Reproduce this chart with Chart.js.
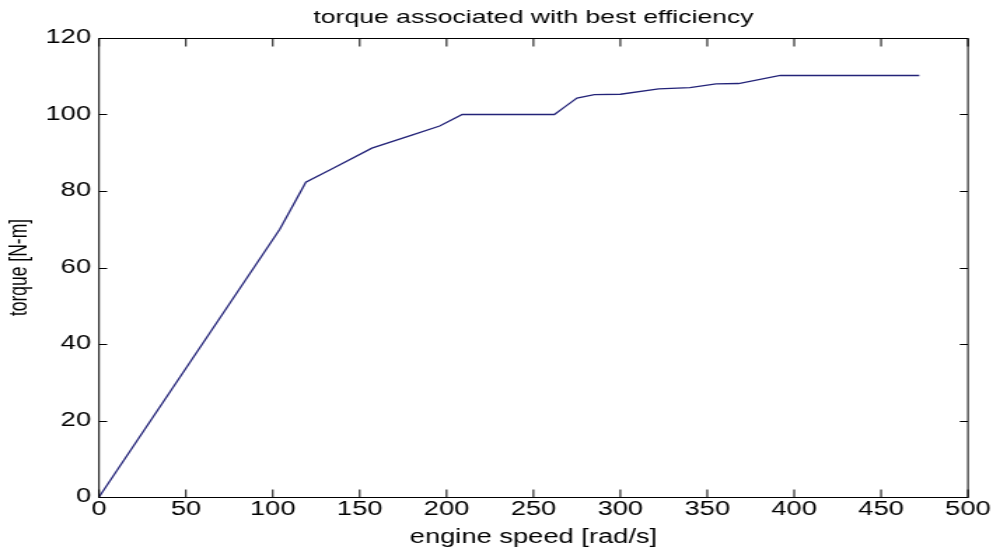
<!DOCTYPE html>
<html>
<head>
<meta charset="utf-8">
<script src="https://cdn.jsdelivr.net/npm/chart.js@4"></script>
<style>
html,body{margin:0;padding:0;background:#fff;overflow:hidden;}
#outer{width:993px;height:547px;overflow:hidden;}
#wrap{width:709px;height:547px;transform:scaleX(1.40056);transform-origin:0 0;}
</style>
</head>
<body>
<div id="outer"><div id="wrap"><canvas id="c" width="709" height="547"></canvas></div></div>
<script>
const chartTitle = "torque associated with best efficiency";
const xTitle = "engine speed [rad/s]";
const yTitle = "torque [N-m]";
const speed  = [0, 104, 119, 135, 157, 180, 196, 209, 262, 268, 275, 285, 300, 322, 340, 355, 368, 392, 472];
const torque = [0, 70, 82.3, 86, 91.2, 94.6, 97, 100, 100, 102, 104.3, 105.2, 105.3, 106.7, 107, 108, 108.1, 110.2, 110.2];
const xTicks = [0, 50, 100, 150, 200, 250, 300, 350, 400, 450, 500];
const yTicks = [0, 20, 40, 60, 80, 100, 120];

const FONT = "'Liberation Sans', Arial, sans-serif";

const boxPlugin = {
  id: 'box',
  afterDraw(chart) {
    const ctx = chart.ctx, a = chart.chartArea;
    const xs = chart.scales.x, ys = chart.scales.y;
    ctx.save();
    ctx.strokeStyle = '#000';
    ctx.lineWidth = 1;
    const L = a.left, R = a.right;
    const T = Math.round(a.top) + 0.5, B = Math.round(a.bottom) + 0.5;
    ctx.strokeRect(L, T, R - L, B - T);
    const tlx = 8, tly = 5.8;
    ctx.beginPath();
    xs.ticks.forEach(t => {
      const px = xs.getPixelForValue(t.value);
      ctx.moveTo(px, B); ctx.lineTo(px, B - tlx);
      ctx.moveTo(px, T); ctx.lineTo(px, T + tlx);
    });
    ys.ticks.forEach(t => {
      const py = Math.round(ys.getPixelForValue(t.value)) + 0.5;
      ctx.moveTo(L, py); ctx.lineTo(L + tly, py);
      ctx.moveTo(R, py); ctx.lineTo(R - tly, py);
    });
    ctx.stroke();
    ctx.restore();
  }
};

new Chart(document.getElementById('c'), {
  type: 'line',
  data: {
    datasets: [{
      data: speed.map((s, i) => ({x: s, y: torque[i]})),
      borderColor: '#232378',
      borderWidth: 1.3,
      pointRadius: 0,
      tension: 0,
      fill: false
    }]
  },
  options: {
    responsive: false,
    animation: false,
    devicePixelRatio: 1,
    layout: { padding: { left: 0, right: 17.9, top: 0, bottom: 0 } },
    plugins: {
      legend: { display: false },
      tooltip: { enabled: false },
      title: {
        display: true,
        fullSize: false,
        text: chartTitle,
        color: '#000',
        font: { family: FONT, size: 19, weight: 'normal', lineHeight: 1.2 },
        padding: { top: 6, bottom: 9.2 }
      }
    },
    scales: {
      x: {
        type: 'linear',
        min: 0, max: 500,
        afterBuildTicks(s) { s.ticks = xTicks.map(v => ({value: v})); },
        afterFit(s) { s.height = 50; },
        grid: { display: false, drawTicks: false },
        border: { display: false },
        ticks: { color: '#000', font: { family: FONT, size: 19.5 }, padding: 1, maxRotation: 0, autoSkip: false },
        title: { display: true, text: xTitle, color: '#000', font: { family: FONT, size: 19.5, lineHeight: 1 }, padding: { top: 0, bottom: 0 } }
      },
      y: {
        type: 'linear',
        min: 0, max: 120,
        afterBuildTicks(s) { s.ticks = yTicks.map(v => ({value: v})); },
        afterFit(s) { s.width = 70.7; },
        grid: { display: false, drawTicks: false },
        border: { display: false },
        ticks: { color: '#000', font: { family: FONT, size: 19.5 }, padding: 5.7, autoSkip: false },
        title: { display: true, text: yTitle, color: '#000', font: { family: FONT, size: 17.5, lineHeight: 1 }, padding: { top: 5.5, bottom: 0 } }
      }
    }
  },
  plugins: [boxPlugin]
});
</script>
</body>
</html>
